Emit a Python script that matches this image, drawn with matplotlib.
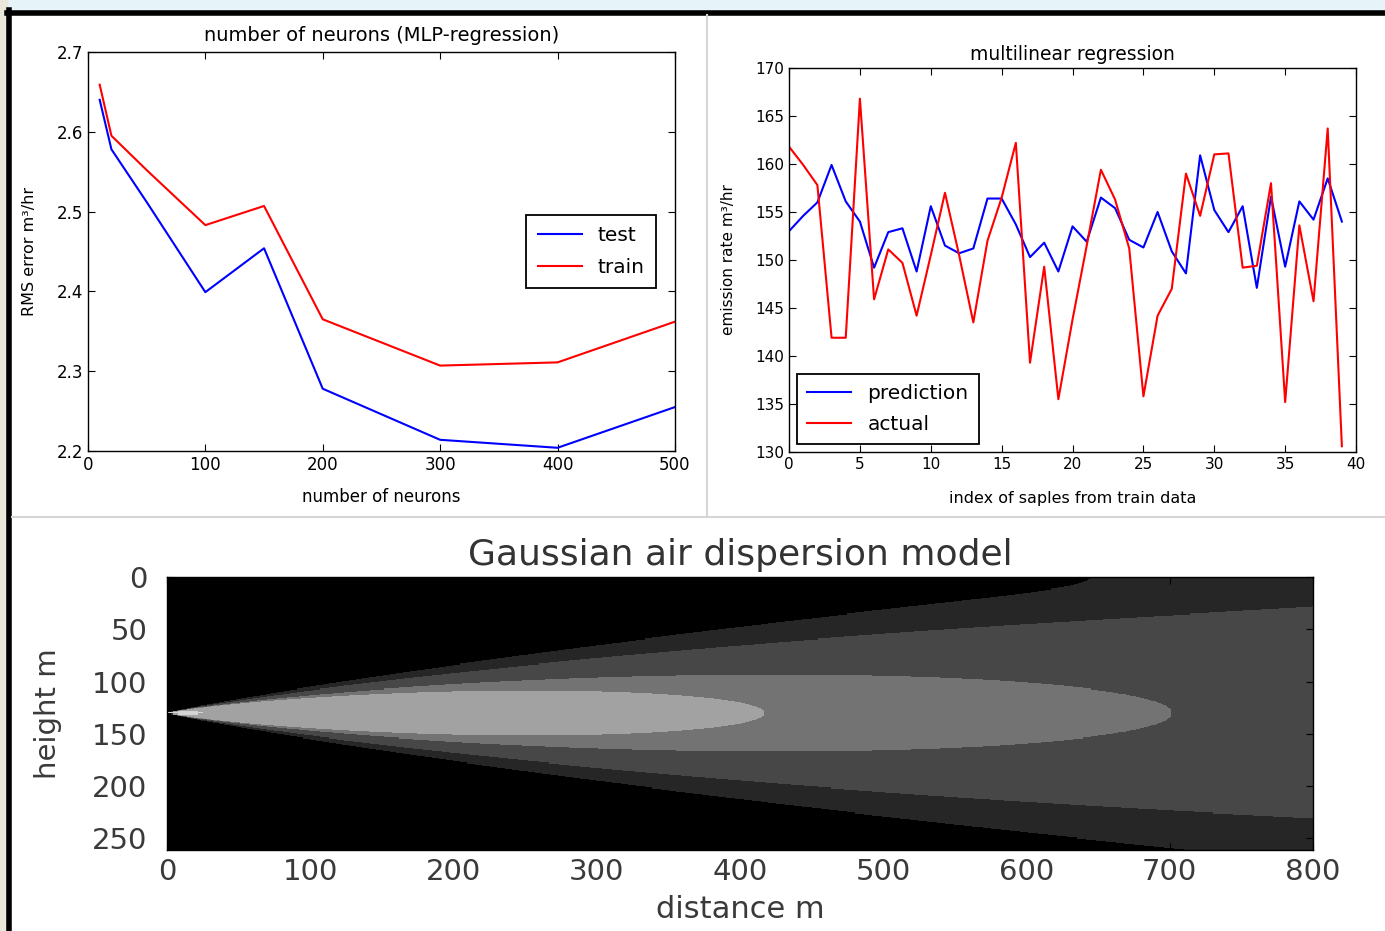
import numpy as np
import matplotlib
matplotlib.use('Agg')
import matplotlib.pyplot as plt
from matplotlib.colors import ListedColormap, BoundaryNorm
from matplotlib.patches import Rectangle
from matplotlib.lines import Line2D

# --- panel 1: MLP regression, error vs number of neurons
neurons = [10, 20, 50, 100, 150, 200, 300, 400, 500]
rms_test = [2.640, 2.578, 2.512, 2.399, 2.454, 2.278, 2.214, 2.204, 2.255]
rms_train = [2.659, 2.595, 2.552, 2.483, 2.507, 2.365, 2.307, 2.311, 2.362]

# --- panel 2: multilinear regression, 40 train samples
sample_idx = list(range(40))
prediction = [153.0, 154.6, 156.0, 159.9, 156.1, 154.0, 149.2, 152.9, 153.3, 148.8,
              155.6, 151.5, 150.7, 151.2, 156.4, 156.4, 153.7, 150.3, 151.8, 148.8,
              153.5, 151.9, 156.5, 155.4, 152.1, 151.3, 155.0, 150.9, 148.6, 160.9,
              155.2, 152.9, 155.6, 147.1, 156.6, 149.3, 156.1, 154.2, 158.5, 154.0]
actual = [161.8, 159.9, 157.8, 141.9, 141.9, 166.8, 145.9, 151.1, 149.7, 144.2,
          150.5, 157.0, 150.5, 143.5, 152.0, 156.5, 162.2, 139.3, 149.3, 135.5,
          143.8, 151.5, 159.4, 156.3, 151.2, 135.8, 144.2, 147.0, 159.0, 154.6,
          161.0, 161.1, 149.2, 149.4, 158.0, 135.2, 153.6, 145.7, 163.7, 130.6]

# --- panel 3: gaussian plume (stack height, sigma_z = a*x^b, contour widths)
STACK_H = 130.0
SIGMA_A, SIGMA_B = 0.0614, 1.0
LEVEL_K = [416.0, 141.0, 43.1, 25.6, 1.5]   # sigma_z where each band closes
BAND_GRAYS = ['#000000', '#262626', '#474747', '#737373', '#a2a2a2', '#d4d4d4']
dist_m = np.arange(0, 801)
height_m = np.arange(0, 262)

plt.rcParams.update({
    'font.family': ['DejaVu Sans'],
    'xtick.direction': 'in', 'ytick.direction': 'in',
    'xtick.top': True, 'ytick.right': True,
    'xtick.major.size': 5, 'ytick.major.size': 5,
    'axes.linewidth': 1.0,
})

fig = plt.figure(figsize=(13.85, 9.31), dpi=100)

# screenshot frame decorations
fig.add_artist(Rectangle((0, 0.989), 1, 0.011, transform=fig.transFigure,
                         color='#e6f3f8', zorder=0))
fig.add_artist(Rectangle((0, 0), 0.005, 1, transform=fig.transFigure,
                         color='#ebe7da', zorder=0))
fig.add_artist(Line2D([0.005, 1], [0.9865, 0.9865], transform=fig.transFigure,
                      color='k', lw=4))
fig.add_artist(Line2D([0.0068, 0.0068], [0, 0.989], transform=fig.transFigure,
                      color='k', lw=4))
fig.add_artist(Line2D([0.5105, 0.5105], [0.445, 0.984], transform=fig.transFigure,
                      color='#d6d6d6', lw=1.5))
fig.add_artist(Line2D([0.009, 1], [0.4447, 0.4447], transform=fig.transFigure,
                      color='#d6d6d6', lw=1.5))

# panel 1
ax1 = fig.add_axes([0.0635, 0.5156, 0.4238, 0.4286])
ax1.plot(neurons, rms_test, color='b', lw=1.5, label='test')
ax1.plot(neurons, rms_train, color='r', lw=1.5, label='train')
ax1.set_xlim(0, 500)
ax1.set_ylim(2.2, 2.7)
ax1.set_yticks([2.2, 2.3, 2.4, 2.5, 2.6, 2.7])
ax1.tick_params(labelsize=12)
ax1.set_title('number of neurons (MLP-regression)', fontsize=14, pad=8)
ax1.set_xlabel('number of neurons', fontsize=12, labelpad=10)
ax1.set_ylabel('RMS error m³/hr', fontsize=11.5, labelpad=14)
leg = ax1.legend(loc='center right', bbox_to_anchor=(0.985, 0.5), fontsize=14.5,
                 fancybox=False, framealpha=1, handlelength=2.2,
                 labelspacing=0.65, borderpad=0.55)
leg.get_frame().set_edgecolor('k')
leg.get_frame().set_linewidth(1.3)

# panel 2
ax2 = fig.add_axes([0.5697, 0.5145, 0.4094, 0.4125])
ax2.plot(sample_idx, prediction, color='b', lw=1.5, label='prediction')
ax2.plot(sample_idx, actual, color='r', lw=1.5, label='actual')
ax2.set_xlim(0, 40)
ax2.set_ylim(130, 170)
ax2.tick_params(labelsize=11)
ax2.set_title('multilinear regression', fontsize=13.5, pad=6)
ax2.set_xlabel('index of saples from train data', fontsize=11.5, labelpad=14)
ax2.set_ylabel('emission rate m³/hr', fontsize=11, labelpad=14)
leg2 = ax2.legend(loc='lower left', borderaxespad=0.4, fontsize=14.5,
                  fancybox=False, framealpha=1, handlelength=2.2,
                  labelspacing=0.6, borderpad=0.5)
leg2.get_frame().set_edgecolor('k')
leg2.get_frame().set_linewidth(1.3)

# panel 3: plume field with ground reflection, binned into gray bands
X, Z = np.meshgrid(dist_m, height_m)
sz = SIGMA_A * np.maximum(X, 0.5) ** SIGMA_B
conc = (np.exp(-(Z - STACK_H) ** 2 / (2 * sz ** 2)) +
        np.exp(-(Z + STACK_H) ** 2 / (2 * sz ** 2))) / sz ** 2
levels = [0] + [1.0 / k ** 2 for k in LEVEL_K] + [conc.max() * 10]
cmap = ListedColormap(BAND_GRAYS)
norm = BoundaryNorm(levels, cmap.N)

ax3 = fig.add_axes([0.1206, 0.0870, 0.8274, 0.2932])
ax3.imshow(conc, cmap=cmap, norm=norm, aspect='auto',
           extent=[0, 800, height_m[-1], 0], interpolation='nearest')
ax3.set_xticks(range(0, 801, 100))
ax3.set_yticks(range(0, 251, 50))
ax3.tick_params(axis='x', labelsize=21, labelcolor='#3a3a3a', color='k', pad=6)
ax3.tick_params(axis='y', labelsize=21, labelcolor='#3a3a3a', color='k', pad=14)
ax3.set_title('Gaussian air dispersion model', fontsize=26, color='#333333', pad=9)
ax3.set_xlabel('distance m', fontsize=22, color='#3a3a3a', labelpad=6)
ax3.set_ylabel('height m', fontsize=21, color='#3a3a3a', labelpad=22)

fig.savefig('out.png', dpi=100)
